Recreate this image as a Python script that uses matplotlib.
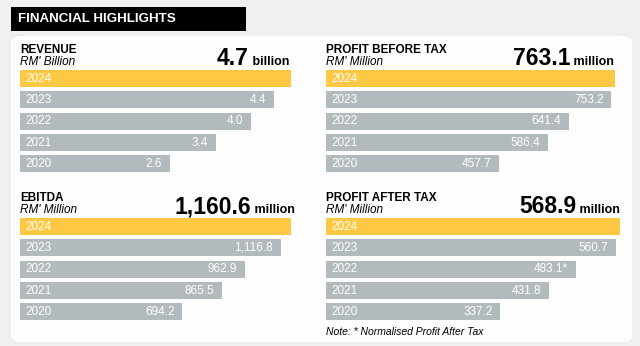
import matplotlib.pyplot as plt
from matplotlib.patches import FancyBboxPatch, Rectangle

W, H = 640, 346

years = ["2024", "2023", "2022", "2021", "2020"]

revenue = [4.7, 4.4, 4.0, 3.4, 2.6]
revenue_labels = ["", "4.4", "4.0", "3.4", "2.6"]

pbt = [763.1, 753.2, 641.4, 586.4, 457.7]
pbt_labels = ["", "753.2", "641.4", "586.4", "457.7"]

ebitda = [1160.6, 1116.8, 962.9, 865.5, 694.2]
ebitda_labels = ["", "1,116.8", "962.9", "865.5", "694.2"]

pat = [568.9, 560.7, 483.1, 431.8, 337.2]
pat_labels = ["", "560.7", "483.1*", "431.8", "337.2"]

GOLD = "#fdc844"
GREY = "#b3babe"
BG = "#f1f0ee"
FONT = "Liberation Sans"

plt.rcParams["font.family"] = [FONT, "DejaVu Sans"]

fig = plt.figure(figsize=(W / 100, H / 100), dpi=100)
fig.patch.set_facecolor(BG)


def fx(px):
    return px / W


def fy(py):
    return 1 - py / H


# white panel and black title bar (behind the axes)
fig.patches.append(FancyBboxPatch((fx(10), fy(343)), fx(623), (343 - 35) / H,
                                  boxstyle="round,pad=0,rounding_size=0.02",
                                  transform=fig.transFigure, facecolor="#fdfdfd",
                                  edgecolor="#e6e5e2", lw=0.6, zorder=-2))
fig.patches.append(Rectangle((fx(11), fy(31)), fx(235), 24 / H,
                             transform=fig.transFigure, facecolor="black", zorder=-1))
fig.text(fx(18), fy(19), "FINANCIAL HIGHLIGHTS", color="white", fontsize=9.6,
         fontweight="bold", va="center", ha="left")


def panel(left, width, top, values, labels, title, unit, big, big_unit, big_right):
    pitch = 21.3
    ax = fig.add_axes([fx(left), fy(top + 5 * pitch), fx(width), 5 * pitch / H])
    colors = [GOLD] + [GREY] * (len(values) - 1)
    ypos = list(range(len(values)))
    ax.barh(ypos, values, height=0.8, color=colors)
    ax.set_xlim(0, values[0])
    ax.set_ylim(len(values) - 0.5, -0.5)
    ax.axis("off")
    for i, (yr, lab, v) in enumerate(zip(years, labels, values)):
        ax.annotate(yr, (0, i), xytext=(4, 0), textcoords="offset points",
                    color="white", fontsize=8.5, va="center", ha="left")
        if lab:
            ax.annotate(lab, (v, i), xytext=(-5.5, 0), textcoords="offset points",
                        color="white", fontsize=8.5, va="center", ha="right")
    fig.text(fx(left), fy(top - 15), title, fontsize=8.5, fontweight="bold",
             va="baseline", ha="left")
    fig.text(fx(left), fy(top - 3), unit, fontsize=8.5, style="italic",
             va="baseline", ha="left")
    t = fig.text(fx(big_right), fy(top - 3), " " + big_unit, fontsize=9,
                 fontweight="bold", va="baseline", ha="right")
    fig.canvas.draw()
    bb = t.get_window_extent()
    fig.text(bb.x0 / W, fy(top - 3), big, fontsize=16.5, fontweight="bold",
             va="baseline", ha="right")


panel(20, 271, 68, revenue, revenue_labels, "REVENUE", "RM' Billion",
      "4.7", "billion", 289)
panel(326, 289, 68, pbt, pbt_labels, "PROFIT BEFORE TAX", "RM' Million",
      "763.1", "million", 614)
panel(20, 271, 216, ebitda, ebitda_labels, "EBITDA", "RM' Million",
      "1,160.6", "million", 295)
panel(326, 294, 216, pat, pat_labels, "PROFIT AFTER TAX", "RM' Million",
      "568.9", "million", 620)

fig.text(fx(326), fy(335), "Note: * Normalised Profit After Tax", fontsize=7.5,
         style="italic", va="baseline", ha="left")

fig.savefig("out.png", dpi=100, facecolor=BG)
